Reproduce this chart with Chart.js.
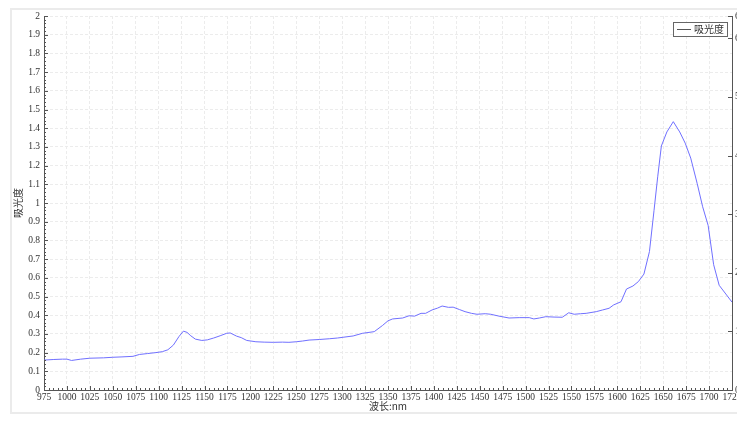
<!DOCTYPE html>
<html>
<head>
<meta charset="utf-8">
<script src="https://cdn.jsdelivr.net/npm/chart.js@4.4.1/dist/chart.umd.min.js"></script>
<style>
  html, body { margin: 0; padding: 0; background: #fff; overflow: hidden; }
  #wrap { width: 760px; height: 422px; }
</style>
</head>
<body>
<div id="wrap"><canvas id="spec"></canvas></div>
<script>
// spectrum
const wavelengths = [975, 985, 995, 1000, 1005, 1015, 1025, 1040, 1050, 1060, 1072, 1079, 1088, 1097, 1104, 1110, 1116, 1122, 1127, 1131, 1135, 1140, 1147, 1153, 1160, 1167, 1174, 1178, 1185, 1190, 1196, 1206, 1215, 1225, 1235, 1242, 1250, 1257, 1264, 1275, 1286, 1295, 1301, 1312, 1322, 1335, 1344, 1350, 1355, 1366, 1373, 1379, 1386, 1391, 1398, 1404, 1409, 1416, 1421, 1428, 1434, 1441, 1447, 1456, 1462, 1471, 1482, 1493, 1504, 1509, 1515, 1522, 1531, 1540, 1547, 1553, 1560, 1566, 1577, 1584, 1591, 1596, 1604, 1610, 1617, 1623, 1629, 1635, 1640, 1644, 1648, 1654, 1661, 1668, 1674, 1680, 1687, 1693, 1699, 1705, 1711, 1725];
const absorbance = [0.16, 0.163, 0.165, 0.165, 0.158, 0.165, 0.17, 0.172, 0.175, 0.177, 0.18, 0.19, 0.195, 0.2, 0.205, 0.215, 0.24, 0.285, 0.315, 0.308, 0.29, 0.272, 0.265, 0.268, 0.278, 0.29, 0.303, 0.305, 0.288, 0.28, 0.265, 0.258, 0.256, 0.255, 0.256, 0.255, 0.258, 0.262, 0.267, 0.27, 0.274, 0.278, 0.282, 0.289, 0.303, 0.312, 0.345, 0.37, 0.38, 0.385, 0.397, 0.395, 0.41, 0.41, 0.428, 0.438, 0.449, 0.442, 0.443, 0.43, 0.419, 0.41, 0.405, 0.408, 0.405, 0.395, 0.385, 0.387, 0.387, 0.38, 0.385, 0.392, 0.39, 0.389, 0.413, 0.405, 0.408, 0.41, 0.419, 0.428, 0.437, 0.455, 0.472, 0.54, 0.556, 0.58, 0.62, 0.74, 0.96, 1.14, 1.305, 1.38, 1.435, 1.38, 1.32, 1.24, 1.105, 0.98, 0.88, 0.67, 0.56, 0.47];

const xMin = 975, xMax = 1725, xStep = 25, xMinor = 5;
const yMin = 0, yMax = 2, yStep = 0.1, yMinor = 0.02;

const tickFont = { family: 'Liberation Serif', size: 9.5 };
const cjkFont = 'Noto Sans CJK SC';
const axisColor = '#555';
const gridColor = '#ececec';
const lineColor = '#7070ff';

// light frame round the plot panel
const framePlugin = {
  id: 'frame',
  beforeDraw(chart) {
    const ctx = chart.ctx;
    ctx.save();
    ctx.fillStyle = '#fff';
    ctx.fillRect(0, 0, chart.width, chart.height);
    ctx.strokeStyle = '#ebebeb';
    ctx.lineWidth = 2;
    ctx.strokeRect(11, 9, chart.width, 404);
    ctx.restore();
  }
};

// inward major/minor ticks, like the original widget
const innerTicks = {
  id: 'innerTicks',
  afterDraw(chart) {
    const ctx = chart.ctx;
    const xs = chart.scales.x, ys = chart.scales.y, y2 = chart.scales.y2;
    const area = chart.chartArea;
    ctx.save();
    ctx.strokeStyle = axisColor;
    ctx.lineWidth = 1;
    ctx.beginPath();
    for (let v = xMin; v <= xMax + 0.001; v += xMinor) {
      const px = Math.round(xs.getPixelForValue(v)) + 0.5;
      const len = (Math.round(v - xMin) % xStep === 0) ? 4 : 2;
      ctx.moveTo(px, area.bottom);
      ctx.lineTo(px, area.bottom - len);
    }
    for (let i = 0; i <= Math.round((yMax - yMin) / yMinor); i++) {
      const v = yMin + i * yMinor;
      const py = Math.round(ys.getPixelForValue(v)) + 0.5;
      const len = (i % 5 === 0) ? 4 : 2;
      ctx.moveTo(area.left, py);
      ctx.lineTo(area.left + len, py);
    }
    y2.ticks.forEach(t => {
      const py = Math.round(y2.getPixelForValue(t.value)) + 0.5;
      ctx.moveTo(area.right, py);
      ctx.lineTo(area.right - 4, py);
    });
    ctx.stroke();
    ctx.restore();
  }
};

// boxed legend in the top right corner of the plot
const boxLegend = {
  id: 'boxLegend',
  afterDraw(chart) {
    const ctx = chart.ctx;
    const ds = chart.data.datasets[0];
    const area = chart.chartArea;
    ctx.save();
    ctx.font = '10px "' + cjkFont + '"';
    const tw = ctx.measureText(ds.label).width;
    const w = tw + 24, h = 14;
    const x = area.right - 5 - w, y = area.top + 6;
    ctx.fillStyle = '#fff';
    ctx.fillRect(x, y, w, h);
    ctx.strokeStyle = '#666';
    ctx.lineWidth = 1;
    ctx.strokeRect(Math.round(x) + 0.5, Math.round(y) + 0.5, Math.round(w), h);
    ctx.strokeStyle = '#555';
    ctx.beginPath();
    ctx.moveTo(x + 4, y + 7.5);
    ctx.lineTo(x + 18, y + 7.5);
    ctx.stroke();
    ctx.fillStyle = '#333';
    ctx.textBaseline = 'middle';
    ctx.fillText(ds.label, x + 21, y + 7.5);
    ctx.restore();
  }
};

function renderChart() {
  const ctx = document.getElementById('spec');
  const points = wavelengths.map((w, i) => ({ x: w, y: absorbance[i] }));

  new Chart(ctx, {
    type: 'line',
    data: {
      datasets: [{
        label: '吸光度',
        data: points,
        borderColor: lineColor,
        borderWidth: 1,
        pointRadius: 0,
        tension: 0,
        fill: false,
      }],
    },
    options: {
      responsive: true,
      maintainAspectRatio: false,
      animation: false,
      layout: { padding: { top: 16, left: 12, right: 0, bottom: 10 } },
      plugins: {
        legend: { display: false },
        tooltip: { enabled: false },
      },
      scales: {
        x: {
          type: 'linear',
          min: xMin,
          max: xMax,
          ticks: {
            stepSize: xStep,
            autoSkip: false,
            maxRotation: 0,
            padding: 2,
            color: '#333',
            font: tickFont,
            callback: v => String(v),
          },
          grid: { color: gridColor, drawTicks: false },
          border: { color: axisColor, dash: [3, 2] },
          title: {
            display: true,
            text: '波长:nm',
            color: '#333',
            font: { family: cjkFont, size: 10 },
            padding: { top: 0, bottom: 0 },
          },
          afterFit: s => { s.height = 22; },
        },
        y: {
          min: yMin,
          max: yMax,
          ticks: {
            stepSize: yStep,
            padding: 4,
            color: '#333',
            font: tickFont,
            callback: v => String(Number(v.toFixed(1))),
          },
          grid: { color: gridColor, drawTicks: false },
          border: { color: axisColor, dash: [3, 2] },
          title: {
            display: true,
            text: '吸光度',
            color: '#333',
            font: { family: cjkFont, size: 10 },
            padding: { top: 0, bottom: 0 },
          },
          afterFit: s => { s.width = 32; },
        },
        y2: {
          position: 'right',
          min: 0,
          max: 6.38,
          ticks: {
            stepSize: 1,
            padding: 3,
            color: '#333',
            font: tickFont,
          },
          grid: { display: false, drawTicks: false },
          border: { color: axisColor },
          afterFit: s => { s.width = 28; },
        },
      },
    },
    plugins: [framePlugin, innerTicks, boxLegend],
  });
}

renderChart();
</script>
</body>
</html>
